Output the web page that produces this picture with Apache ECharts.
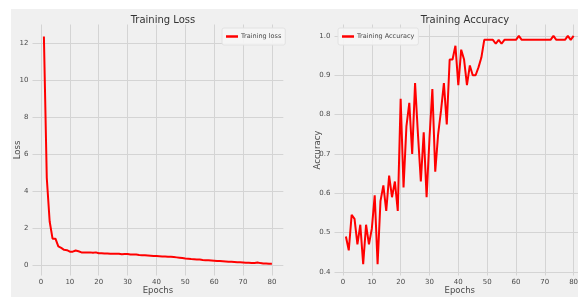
<!DOCTYPE html>
<html>
<head>
<meta charset="utf-8">
<script src="https://cdn.jsdelivr.net/npm/echarts@6/dist/echarts.min.js"></script>
<style>
  html, body { margin: 0; padding: 0; background: #fff; }
  #chart { width: 578px; height: 297px; }
</style>
</head>
<body>
<div id="chart"></div>
<script>
// epochs 1..80
const epochs = [1,2,3,4,5,6,7,8,9,10,11,12,13,14,15,16,17,18,19,20,
  21,22,23,24,25,26,27,28,29,30,31,32,33,34,35,36,37,38,39,40,
  41,42,43,44,45,46,47,48,49,50,51,52,53,54,55,56,57,58,59,60,
  61,62,63,64,65,66,67,68,69,70,71,72,73,74,75,76,77,78,79,80]

const lossValues = [12.35,4.7,2.35,1.42,1.42,1.0,0.92,0.82,0.8,0.72,
  0.72,0.78,0.74,0.68,0.68,0.68,0.68,0.66,0.68,0.63,
  0.63,0.62,0.62,0.61,0.6,0.6,0.61,0.58,0.59,0.59,
  0.57,0.57,0.56,0.54,0.53,0.52,0.51,0.5,0.49,0.48,
  0.47,0.46,0.46,0.45,0.44,0.43,0.41,0.39,0.37,0.35,
  0.34,0.32,0.31,0.3,0.29,0.27,0.26,0.25,0.24,0.23,
  0.22,0.21,0.2,0.19,0.18,0.17,0.16,0.15,0.14,0.13,
  0.12,0.12,0.11,0.11,0.13,0.1,0.08,0.08,0.07,0.07]

const accValues = [0.49,0.455,0.545,0.535,0.47,0.52,0.42,0.52,0.47,0.51,
  0.595,0.42,0.58,0.62,0.555,0.645,0.59,0.63,0.555,0.84,
  0.615,0.77,0.83,0.70,0.88,0.75,0.63,0.755,0.59,0.74,
  0.865,0.655,0.75,0.81,0.88,0.775,0.94,0.94,0.975,0.875,
  0.965,0.94,0.875,0.925,0.90,0.90,0.92,0.945,0.99,0.99,
  0.99,0.99,0.98,0.99,0.98,0.99,0.99,0.99,0.99,0.99,
  1.0,0.99,0.99,0.99,0.99,0.99,0.99,0.99,0.99,0.99,
  0.99,0.99,1.0,0.99,0.99,0.99,0.99,1.0,0.99,1.0]

const xTicks = [0, 10, 20, 30, 40, 50, 60, 70, 80]
const lossTicks = [0, 2, 4, 6, 8, 10, 12]
const accTicks = [0.4, 0.5, 0.6, 0.7, 0.8, 0.9, 1.0]

const font = 'DejaVu Sans'
const textColor = '#4a4a4a'
const gridColor = '#d4d4d4'

function xAxis(idx) {
  return {
    type: 'value', gridIndex: idx, min: -2.95, max: 83.95,
    name: 'Epochs', nameLocation: 'middle', nameGap: 11, nameMoveOverlap: false,
    nameTextStyle: { fontFamily: font, fontSize: 8.5, color: textColor },
    axisLine: { show: false },
    axisTick: { show: false, customValues: xTicks },
    axisLabel: { customValues: xTicks, fontFamily: font, fontSize: 7, color: textColor, margin: 3 },
    splitLine: { show: true, lineStyle: { color: gridColor, width: 1 } },
  }
}

function yAxis(idx, min, max, ticks, name, gap, fmt) {
  return {
    type: 'value', gridIndex: idx, min: min, max: max,
    name: name, nameLocation: 'middle', nameGap: gap, nameMoveOverlap: false,
    nameTextStyle: { fontFamily: font, fontSize: 8.5, color: textColor },
    axisLine: { show: false },
    axisTick: { show: false, customValues: ticks },
    axisLabel: { customValues: ticks, fontFamily: font, fontSize: 7, color: textColor, margin: 4, formatter: fmt },
    splitLine: { show: true, lineStyle: { color: gridColor, width: 1 } },
  }
}

const legendStyle = {
  orient: 'vertical', top: 28, icon: 'rect', itemWidth: 12, itemHeight: 2.5,
  padding: [5, 4, 5, 4],
  backgroundColor: 'rgba(245,245,245,0.9)', borderColor: '#e2e2e2', borderWidth: 1, borderRadius: 2,
  textStyle: { fontFamily: font, fontSize: 6.5, color: textColor, padding: [0, 0, 0, -2] },
}

const myChart = echarts.init(document.getElementById('chart'))
myChart.setOption({
  animation: false,
  backgroundColor: '#ffffff',
  graphic: [
    { type: 'rect', z: -10, shape: { x: 11, y: 9, width: 567, height: 288 }, style: { fill: '#f0f0f0' } },
  ],
  title: [
    { text: 'Training Loss', left: 158, top: 10, textAlign: 'center',
      textStyle: { fontFamily: font, fontSize: 10, fontWeight: 'normal', color: '#333' } },
    { text: 'Training Accuracy', left: 460, top: 10, textAlign: 'center',
      textStyle: { fontFamily: font, fontSize: 10, fontWeight: 'normal', color: '#333' } },
  ],
  legend: [
    Object.assign({ left: 222, data: ['Training loss'] }, legendStyle),
    Object.assign({ left: 338, data: ['Training Accuracy'] }, legendStyle),
  ],
  grid: [
    { left: 32.5, right: 294.7, top: 24.5, bottom: 21.5, outerBoundsMode: 'none', containLabel: false },
    { left: 334.5, right: -7, top: 24.5, bottom: 21.5, outerBoundsMode: 'none', containLabel: false },
  ],
  xAxis: [xAxis(0), xAxis(1)],
  yAxis: [
    yAxis(0, -0.57, 13.0, lossTicks, 'Loss', 10, v => String(v)),
    yAxis(1, 0.391, 1.029, accTicks, 'Accuracy', 12, v => v.toFixed(1)),
  ],
  series: [
    { name: 'Training loss', type: 'line', xAxisIndex: 0, yAxisIndex: 0,
      data: epochs.map((e, i) => [e, lossValues[i]]),
      showSymbol: false, lineStyle: { color: '#ff0000', width: 2 }, itemStyle: { color: '#ff0000' } },
    { name: 'Training Accuracy', type: 'line', xAxisIndex: 1, yAxisIndex: 1,
      data: epochs.map((e, i) => [e, accValues[i]]),
      showSymbol: false, lineStyle: { color: '#ff0000', width: 2 }, itemStyle: { color: '#ff0000' } },
  ],
})
</script>
</body>
</html>
